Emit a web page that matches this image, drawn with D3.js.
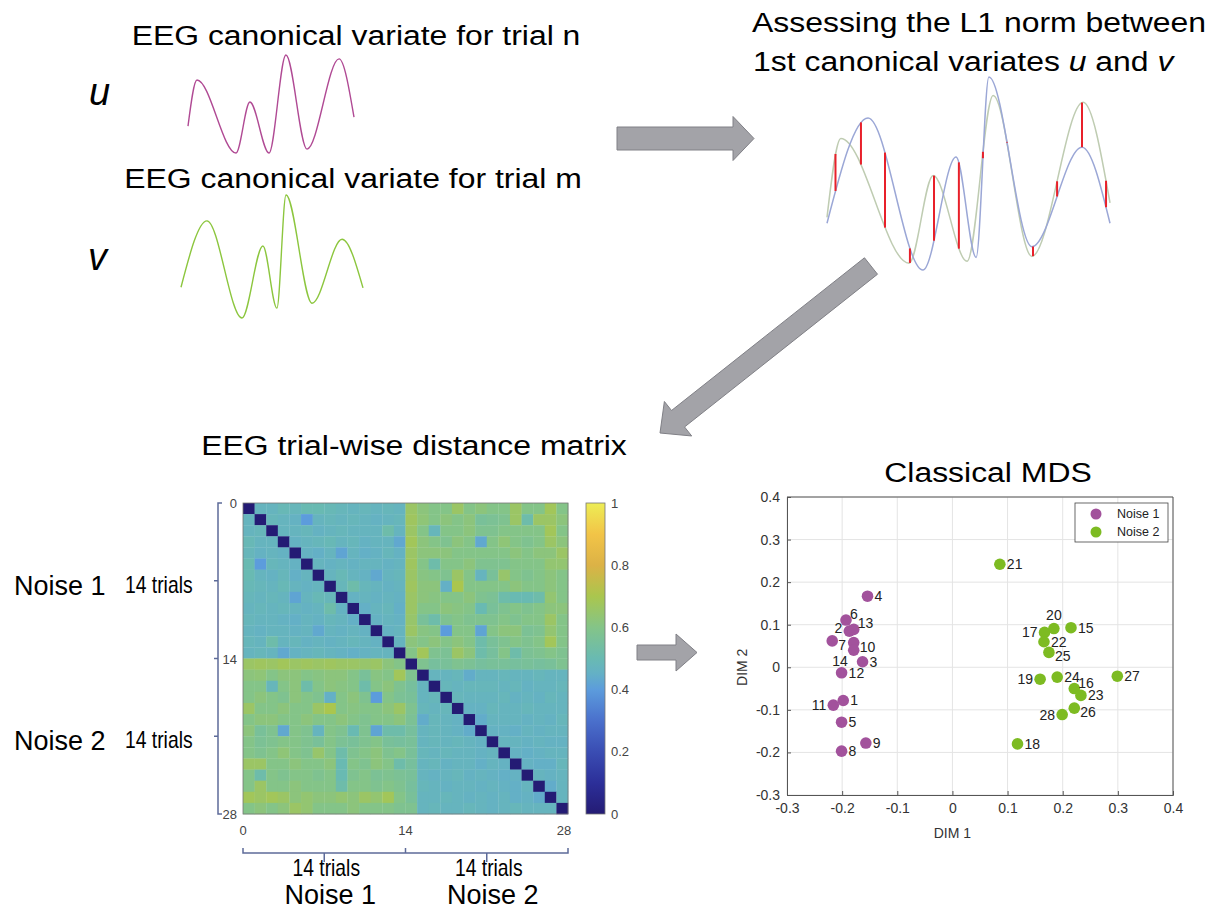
<!DOCTYPE html>
<html>
<head>
<meta charset="utf-8">
<script src="https://cdn.jsdelivr.net/npm/d3@7"></script>
<style>
  body { margin: 0; background: #fff; }
  text { font-family: "Liberation Sans", Arial, sans-serif; }
</style>
</head>
<body>
<svg id="fig" width="1210" height="911"></svg>
<script>
// ---- data ----
// canonical variates as (time, amplitude) turning points
var uKnots = [[0,-0.45],[5.4,0.49],[28.9,-1],[37.3,0.04],[48.8,-1],[59,1],[71.7,-0.92],[91,0.92],[100,-0.27]];
var vKnots = [[0,-0.5],[14.3,0.58],[33.5,-1],[45,0.17],[52.7,-0.84],[57.7,1],[72,-0.76],[88.5,0.28],[100,-0.51]];
var l1Blue = [[0,-0.5],[14.5,0.58],[33.9,-0.98],[45.6,0.18],[52.7,-0.85],[57.2,1],[72.4,-0.74],[90.1,0.28],[100,-0.5]];
var l1Green = [[0,-0.44],[4.9,0.37],[29,-0.91],[37.5,-0.01],[49.5,-0.89],[58.7,0.81],[72.4,-0.84],[90.5,0.74],[100,-0.29]];
var redT = [3,12,20.5,29.3,37.8,46.6,55.1,63.6,72.8,81.3,90.1,98.6];

// trial-wise L1 distance matrix, lower triangle (row i, cols 0..i-1), symmetric
var distLower = [
  [],
  [0.47],
  [0.47,0.48],
  [0.49,0.47,0.47],
  [0.48,0.46,0.47,0.46],
  [0.50,0.40,0.48,0.47,0.46],
  [0.50,0.47,0.46,0.48,0.45,0.47],
  [0.49,0.48,0.47,0.49,0.47,0.46,0.47],
  [0.48,0.47,0.48,0.47,0.42,0.47,0.49,0.48],
  [0.47,0.48,0.47,0.48,0.47,0.46,0.47,0.52,0.46],
  [0.48,0.47,0.47,0.46,0.45,0.47,0.46,0.48,0.47,0.45],
  [0.47,0.46,0.47,0.47,0.46,0.47,0.43,0.47,0.46,0.47,0.46],
  [0.48,0.47,0.52,0.47,0.48,0.46,0.47,0.46,0.47,0.48,0.47,0.46],
  [0.47,0.48,0.47,0.43,0.46,0.47,0.48,0.47,0.46,0.45,0.46,0.47,0.47],
  [0.66,0.67,0.66,0.68,0.66,0.67,0.66,0.67,0.66,0.66,0.65,0.66,0.62,0.60],
  [0.62,0.63,0.60,0.62,0.62,0.60,0.61,0.62,0.62,0.60,0.56,0.61,0.60,0.68, 0.58],
  [0.60,0.60,0.48,0.60,0.62,0.52,0.60,0.62,0.61,0.60,0.52,0.60,0.62,0.58, 0.55,0.47],
  [0.60,0.62,0.60,0.58,0.62,0.60,0.58,0.45,0.60,0.62,0.58,0.40,0.60,0.57, 0.56,0.47,0.48],
  [0.66,0.60,0.60,0.62,0.60,0.60,0.66,0.70,0.60,0.61,0.60,0.60,0.62,0.66, 0.58,0.48,0.47,0.48],
  [0.60,0.62,0.62,0.60,0.60,0.62,0.60,0.60,0.62,0.60,0.58,0.60,0.60,0.62, 0.57,0.44,0.48,0.47,0.46],
  [0.62,0.56,0.58,0.43,0.60,0.58,0.47,0.60,0.58,0.50,0.58,0.42,0.52,0.52, 0.55,0.47,0.48,0.47,0.46,0.44],
  [0.60,0.57,0.58,0.60,0.60,0.58,0.56,0.60,0.57,0.56,0.58,0.60,0.56,0.55, 0.56,0.47,0.48,0.47,0.48,0.47,0.46],
  [0.60,0.58,0.60,0.63,0.60,0.58,0.65,0.60,0.52,0.58,0.60,0.62,0.58,0.60, 0.56,0.48,0.47,0.48,0.47,0.47,0.46,0.47],
  [0.66,0.66,0.60,0.60,0.62,0.60,0.60,0.62,0.50,0.60,0.58,0.62,0.60,0.52, 0.55,0.47,0.48,0.46,0.47,0.47,0.45,0.47,0.46],
  [0.60,0.52,0.60,0.58,0.60,0.60,0.58,0.60,0.50,0.58,0.60,0.57,0.58,0.57, 0.56,0.47,0.46,0.47,0.48,0.46,0.47,0.46,0.45,0.46],
  [0.60,0.66,0.60,0.60,0.62,0.60,0.60,0.60,0.52,0.60,0.60,0.58,0.60,0.58, 0.55,0.48,0.47,0.46,0.47,0.47,0.46,0.47,0.46,0.45,0.47],
  [0.68,0.66,0.68,0.66,0.62,0.64,0.62,0.62,0.64,0.62,0.66,0.64,0.68,0.60, 0.56,0.47,0.47,0.48,0.47,0.46,0.47,0.46,0.47,0.45,0.46,0.44],
  [0.60,0.62,0.60,0.62,0.66,0.64,0.60,0.60,0.60,0.62,0.60,0.60,0.60,0.58, 0.58,0.47,0.48,0.47,0.47,0.48,0.47,0.46,0.47,0.48,0.47,0.47,0.47]
];
var cbTicks = [0, 0.2, 0.4, 0.6, 0.8, 1];
var matTicks = [0, 14, 28];

// classical MDS coordinates
var trialIds = d3.range(1, 29);
var dim1 = [-0.198,-0.187,-0.163,-0.154,-0.201,-0.193,-0.218,-0.201,-0.157,-0.179,-0.216,-0.201,-0.179,-0.179,
             0.215, 0.221, 0.167, 0.118, 0.159, 0.184, 0.086, 0.166, 0.233, 0.190, 0.175, 0.221, 0.299, 0.199];
var dim2 = [-0.078, 0.085, 0.013, 0.167,-0.129, 0.111, 0.062,-0.197,-0.178, 0.058,-0.089,-0.013, 0.089, 0.040,
             0.093,-0.050, 0.082,-0.180,-0.028, 0.091, 0.242, 0.060,-0.066,-0.023, 0.035,-0.096,-0.021,-0.111];
var groups = ["Noise 1", "Noise 2"];
var mdsTicks = [-0.3,-0.2,-0.1,0,0.1,0.2,0.3,0.4];

// ---- drawing ----
var svg = d3.select("#fig");
var slate = "#5d6b99", arrowFill = "#a3a3a8", arrowStroke = "#808086";

// slide text is a little wider than Liberation Sans
function stretched(x, y, size, sx, anchor) {
    return svg.append("text")
        .attr("transform", "translate(" + x + "," + y + ") scale(" + sx + ",1)")
        .attr("text-anchor", anchor || "start")
        .style("font-size", size + "px");
}

function arrow(x1, y1, x2, y2, bw, hw, hl) {
    var dx = x2 - x1, dy = y2 - y1, L = Math.sqrt(dx*dx + dy*dy);
    var ux = dx / L, uy = dy / L, nx = -uy, ny = ux;
    var bx = x2 - ux*hl, by = y2 - uy*hl;
    var p = [[x1+nx*bw, y1+ny*bw], [bx+nx*bw, by+ny*bw], [bx+nx*hw, by+ny*hw], [x2, y2],
             [bx-nx*hw, by-ny*hw], [bx-nx*bw, by-ny*bw], [x1-nx*bw, y1-ny*bw]];
    svg.append("path").attr("d", "M" + p.join("L") + "Z")
        .attr("fill", arrowFill).attr("stroke", arrowStroke).attr("stroke-width", 1);
}

function wave(knots, xr, yr, color, w) {
    var x = d3.scaleLinear().domain([0, 100]).range(xr);
    var y = d3.scaleLinear().domain([-1, 1]).range(yr);
    var line = d3.line().x(function(d) { return x(d[0]); }).y(function(d) { return y(d[1]); })
        .curve(d3.curveMonotoneX);
    return svg.append("path").datum(knots).attr("d", line)
        .attr("fill", "none").attr("stroke", color).attr("stroke-width", w);
}

// y on a drawn path at pixel x
function yAt(node, px) {
    var lo = 0, hi = node.getTotalLength();
    for (var k = 0; k < 40; k++) {
        var mid = (lo + hi) / 2;
        if (node.getPointAtLength(mid).x < px) lo = mid; else hi = mid;
    }
    return node.getPointAtLength(lo).y;
}

// top-left: the two variates
stretched(356, 45, 28, 1.14, "middle").text("EEG canonical variate  for trial n");
stretched(353, 188, 28, 1.14, "middle").text("EEG canonical variate  for trial m");
svg.append("text").attr("x", 89).attr("y", 105).style("font-size", "38px").style("font-style", "italic").text("u");
svg.append("text").attr("x", 88).attr("y", 270).style("font-size", "38px").style("font-style", "italic").text("v");
wave(uKnots, [188, 354], [153, 55], "#b04a94", 1.4);
wave(vKnots, [181, 363], [318, 195], "#8cc63e", 1.4);

// top-right: L1 norm between u and v
stretched(752, 32, 28, 1.14).text("Assessing the L1 norm between");
var t2 = stretched(753, 71, 28, 1.14);
t2.append("tspan").text("1st canonical variates ");
t2.append("tspan").style("font-style", "italic").text("u");
t2.append("tspan").text(" and ");
t2.append("tspan").style("font-style", "italic").text("v");

var l1x = d3.scaleLinear().domain([0, 100]).range([827, 1110]);
var gPath = wave(l1Green, [827, 1110], [272, 77], "#bfccb2", 1.5);
var bPath = wave(l1Blue, [827, 1110], [272, 77], "#9ba7d6", 1.5);
svg.selectAll(".red").data(redT).enter().append("line").attr("class", "red")
    .attr("x1", function(d) { return l1x(d); }).attr("x2", function(d) { return l1x(d); })
    .attr("y1", function(d) { return yAt(bPath.node(), l1x(d)); })
    .attr("y2", function(d) { return yAt(gPath.node(), l1x(d)); })
    .attr("stroke", "#e8202a").attr("stroke-width", 2);

// arrows
arrow(617, 138.5, 754, 138.5, 11.5, 22, 21);
arrow(871, 266, 660, 433, 10.5, 22, 23);
arrow(637, 652.5, 697, 652.5, 7.5, 18.5, 21);

// ---- distance matrix ----
stretched(414, 455, 28, 1.14, "middle").text("EEG trial-wise distance matrix");

var n = distLower.length;
var cells = [];
for (var i = 0; i < n; i++) for (var j = 0; j < n; j++) {
    var v = i === j ? 0 : (j < i ? distLower[i][j] : distLower[j][i]);
    cells.push({r: i, c: j, v: v});
}
var mx = d3.scaleLinear().domain([0, n]).range([243, 568]);
var my = d3.scaleLinear().domain([0, n]).range([503, 814]);
var parula = d3.scaleLinear()
    .domain([0, 0.1, 0.2, 0.3, 0.4, 0.45, 0.5, 0.6, 0.7, 0.8, 0.9, 1])
    .range(["#241b74", "#2c2f99", "#3a4db3", "#4a70cc", "#5c9cdc", "#64b0c6", "#69bab2", "#84c488",
            "#aac64e", "#dcb246", "#f2c447", "#eded55"]);

svg.append("g").selectAll("rect").data(cells).enter().append("rect")
    .attr("x", function(d) { return mx(d.c); })
    .attr("y", function(d) { return my(d.r); })
    .attr("width", mx(1) - mx(0) + 0.3)
    .attr("height", my(1) - my(0) + 0.3)
    .attr("fill", function(d) { return parula(d.v); });
svg.append("rect").attr("x", 243).attr("y", 503).attr("width", 325).attr("height", 311)
    .attr("fill", "none").attr("stroke", "#777").attr("stroke-width", 0.8);

svg.selectAll(".mty").data(matTicks).enter().append("text").attr("class", "mty")
    .attr("x", 237).attr("y", function(d) { return my(d) + 5; }).attr("text-anchor", "end")
    .style("font-size", "13px").attr("fill", "#444").text(function(d) { return d; });
svg.selectAll(".mtx").data(matTicks).enter().append("text").attr("class", "mtx")
    .attr("x", function(d) { return mx(d) - (d === 28 ? 4 : 0); }).attr("y", 835).attr("text-anchor", "middle")
    .style("font-size", "13px").attr("fill", "#444").text(function(d) { return d; });

// colour bar
var cby = d3.scaleLinear().domain([0, 1]).range([814, 503]);
var grad = svg.append("defs").append("linearGradient").attr("id", "cb")
    .attr("x1", 0).attr("y1", 1).attr("x2", 0).attr("y2", 0);
grad.selectAll("stop").data(parula.domain()).enter().append("stop")
    .attr("offset", function(d) { return d; }).attr("stop-color", function(d) { return parula(d); });
svg.append("rect").attr("x", 586).attr("y", 503).attr("width", 19).attr("height", 311)
    .attr("fill", "url(#cb)").attr("stroke", "#777").attr("stroke-width", 0.8);
svg.append("g").attr("transform", "translate(605,0)")
    .call(d3.axisRight(cby).tickValues(cbTicks).tickSize(0).tickPadding(6).tickFormat(d3.format("~g")))
    .call(function(g) { g.select(".domain").remove(); })
    .selectAll("text").style("font-size", "13px").attr("fill", "#444")
    .style("font-family", "'Liberation Sans', Arial, sans-serif");

// brackets
var lb = d3.path();
lb.moveTo(222, 503); lb.lineTo(218, 503); lb.lineTo(218, 814); lb.lineTo(222, 814);
svg.append("path").attr("d", lb.toString()).attr("fill", "none").attr("stroke", slate).attr("stroke-width", 1.5);
svg.selectAll(".lbt").data([7, 14, 21]).enter().append("line").attr("class", "lbt")
    .attr("x1", 214).attr("x2", 218).attr("y1", function(d) { return my(d); }).attr("y2", function(d) { return my(d); })
    .attr("stroke", slate).attr("stroke-width", 1.5);

var bb = d3.path();
bb.moveTo(243, 848); bb.lineTo(243, 853); bb.lineTo(568, 853); bb.lineTo(568, 848);
svg.append("path").attr("d", bb.toString()).attr("fill", "none").attr("stroke", slate).attr("stroke-width", 1.5);
svg.append("line").attr("x1", mx(14)).attr("x2", mx(14)).attr("y1", 848).attr("y2", 853)
    .attr("stroke", slate).attr("stroke-width", 1.5);
svg.selectAll(".bbt").data([7, 21]).enter().append("line").attr("class", "bbt")
    .attr("x1", function(d) { return mx(d); }).attr("x2", function(d) { return mx(d); })
    .attr("y1", 853).attr("y2", 862).attr("stroke", slate).attr("stroke-width", 1.5);

// group labels round the matrix
groups.forEach(function(g, k) {
    stretched(14, my(7 + 14*k) + 14, 27, 1.0).text(g);
    stretched(125, my(7 + 14*k) + 12, 23, 0.84).text("14 trials");
    stretched(mx(7 + 14*k) + 2, 876, 23, 0.84, "middle").text("14 trials");
    stretched(mx(7 + 14*k) + 6, 904, 27, 1.0, "middle").text(g);
});

// ---- classical MDS ----
stretched(988, 482, 28, 1.14, "middle").text("Classical MDS");

var sx = d3.scaleLinear().domain([-0.3, 0.4]).range([787, 1173]);
var sy = d3.scaleLinear().domain([-0.3, 0.4]).range([795, 497]);
var grid = svg.append("g").attr("stroke", "#e4e4e4").attr("stroke-width", 1);
grid.selectAll(".gx").data(mdsTicks).enter().append("line")
    .attr("x1", function(d) { return sx(d); }).attr("x2", function(d) { return sx(d); })
    .attr("y1", 497).attr("y2", 795);
grid.selectAll(".gy").data(mdsTicks).enter().append("line")
    .attr("y1", function(d) { return sy(d); }).attr("y2", function(d) { return sy(d); })
    .attr("x1", 787).attr("x2", 1173);

var fmt = function(d) { return d3.format("~g")(d).replace("−", "-"); };
svg.append("g").attr("transform", "translate(0,795)")
    .call(d3.axisBottom(sx).tickValues(mdsTicks).tickSize(-4).tickPadding(8).tickFormat(fmt))
    .call(function(g) { g.select(".domain").attr("stroke", "#555"); g.selectAll(".tick line").attr("stroke", "#555"); })
    .selectAll("text").style("font-size", "14px").attr("fill", "#333")
    .style("font-family", "'Liberation Sans', Arial, sans-serif");
svg.append("g").attr("transform", "translate(787,0)")
    .call(d3.axisLeft(sy).tickValues(mdsTicks).tickSize(-4).tickPadding(7).tickFormat(fmt))
    .call(function(g) { g.select(".domain").attr("stroke", "#555"); g.selectAll(".tick line").attr("stroke", "#555"); })
    .selectAll("text").style("font-size", "14px").attr("fill", "#333")
    .style("font-family", "'Liberation Sans', Arial, sans-serif");
svg.append("line").attr("x1", 787).attr("x2", 1173).attr("y1", 497).attr("y2", 497).attr("stroke", "#555");
svg.append("line").attr("x1", 1173).attr("x2", 1173).attr("y1", 497).attr("y2", 795).attr("stroke", "#555");

svg.append("text").attr("x", sx(0)).attr("y", 838).attr("text-anchor", "middle")
    .style("font-size", "14px").attr("fill", "#333").text("DIM 1");
svg.append("text").attr("transform", "translate(747," + sy(0) + ") rotate(-90)").attr("text-anchor", "middle")
    .style("font-size", "14px").attr("fill", "#333").text("DIM 2");

var groupColor = d3.scaleOrdinal().domain(groups).range(["#a2529c", "#7dbb22"]);
var pts = trialIds.map(function(id, k) {
    return {id: id, x: dim1[k], y: dim2[k], g: groups[id <= 14 ? 0 : 1]};
});
// where each trial number sits round its marker
var labelSide = {2: "la", 11: "l", 14: "lb", 17: "l", 19: "l", 28: "l", 6: "ra", 16: "ra", 20: "t",
                 25: "rb", 23: "r", 26: "rb", 13: "ra", 10: "rb", 7: "rb"};
var offs = {r: [7, 5, "start"], l: [-7, 5, "end"], la: [-7, 2, "end"], lb: [-6, 16, "end"],
            ra: [4, -1, "start"], t: [0, -9, "middle"], rb: [6, 9, "start"]};

var node = svg.selectAll(".pt").data(pts).enter().append("g").attr("class", "pt")
    .attr("transform", function(d) { return "translate(" + sx(d.x) + "," + sy(d.y) + ")"; });
node.append("circle").attr("r", 5.8).attr("fill", function(d) { return groupColor(d.g); });
node.append("text")
    .attr("dx", function(d) { return offs[labelSide[d.id] || "r"][0]; })
    .attr("dy", function(d) { return offs[labelSide[d.id] || "r"][1]; })
    .attr("text-anchor", function(d) { return offs[labelSide[d.id] || "r"][2]; })
    .style("font-size", "14px").attr("fill", "#222").text(function(d) { return d.id; });

// legend
var leg = svg.append("g").attr("transform", "translate(1075,503)");
leg.append("rect").attr("width", 93).attr("height", 39).attr("fill", "#fff").attr("stroke", "#444").attr("stroke-width", 0.8);
var li = leg.selectAll(".li").data(groups).enter().append("g")
    .attr("transform", function(d, k) { return "translate(0," + (11 + 18*k) + ")"; });
li.append("circle").attr("cx", 21).attr("r", 5.5).attr("fill", function(d) { return groupColor(d); });
li.append("text").attr("x", 42).attr("y", 4).style("font-size", "12.5px").attr("fill", "#222").text(function(d) { return d; });
</script>
</body>
</html>
